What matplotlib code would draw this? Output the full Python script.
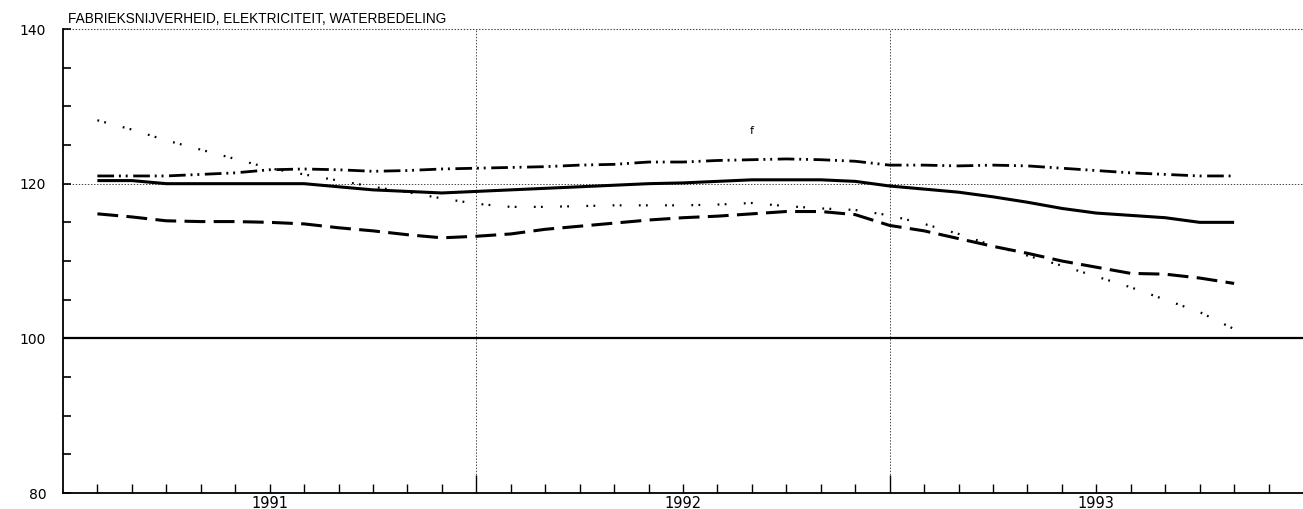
import numpy as np
import matplotlib
matplotlib.use('Agg')
import matplotlib.pyplot as plt
import matplotlib.transforms as mtransforms

plt.rcParams['lines.scale_dashes'] = False

title = 'FABRIEKSNIJVERHEID, ELEKTRICITEIT, WATERBEDELING'
years = ['1991', '1992', '1993']

# month index, 0 = start of jan 1991
months = np.arange(1, 35)

solid = [120.4, 120.4, 120.0, 120.0, 120.0, 120.0, 120.0, 119.6, 119.2, 119.0,
         118.8, 119.0, 119.2, 119.4, 119.6, 119.8, 120.0, 120.1, 120.3, 120.5,
         120.5, 120.5, 120.3, 119.7, 119.3, 118.9, 118.3, 117.6, 116.8, 116.2,
         115.9, 115.6, 115.0, 115.0]

dashdot = [121.0, 121.0, 121.0, 121.2, 121.4, 121.8, 121.9, 121.8, 121.6, 121.7,
           121.9, 122.0, 122.1, 122.2, 122.4, 122.5, 122.8, 122.8, 123.0, 123.1,
           123.2, 123.1, 122.9, 122.4, 122.4, 122.3, 122.4, 122.3, 122.0, 121.7,
           121.4, 121.2, 121.0, 121.0]

dashed = [116.1, 115.7, 115.2, 115.1, 115.1, 115.0, 114.8, 114.3, 113.9, 113.4,
          113.0, 113.2, 113.5, 114.1, 114.5, 114.9, 115.3, 115.6, 115.8, 116.1,
          116.4, 116.4, 116.0, 114.6, 113.9, 112.9, 111.9, 111.0, 110.0, 109.2,
          108.4, 108.3, 107.8, 107.1]

dotted = [128.2, 127.0, 125.6, 124.4, 123.2, 122.0, 121.2, 120.4, 119.6, 118.9,
          118.1, 117.4, 117.0, 117.0, 117.1, 117.2, 117.2, 117.2, 117.3, 117.5,
          117.1, 116.8, 116.6, 115.9, 114.8, 113.5, 112.0, 110.7, 109.4, 108.0,
          106.6, 105.0, 103.4, 101.2]

fig = plt.figure(figsize=(13.03, 5.09), dpi=100)
ax = fig.add_axes([0.0483, 0.0314, 0.9517, 0.9116])

# reference lines
ax.axhline(100, color='black', lw=1.6, zorder=2)
ax.axhline(120, color='#444444', lw=0.7, ls=(0, (1, 1.2)), zorder=1)
ax.axhline(140, color='#444444', lw=0.8, ls=(0, (1, 1.2)), zorder=1, clip_on=False)
for xb in [12, 24]:
    ax.axvline(xb, color='#444444', lw=0.7, ls=(0, (1, 1.2)), zorder=1)

# series
ax.plot(months, solid, color='black', lw=2.2, solid_capstyle='butt')
ax.plot(months, dashed, color='black', lw=2.2, dashes=[15, 6])
ax.plot(months, dashdot, color='black', lw=2.0, dashes=[12, 3.5, 1.4, 3.5, 1.4, 4])
ax.plot(months, dotted, color='black', lw=1.6, dashes=[1.3, 3.8, 1.3, 12.5])

ax.text(20, 126.8, 'f', fontsize=8, ha='center', va='center')

ax.set_xlim(0, 36)
ax.set_ylim(80, 140)

for s in ['top', 'right']:
    ax.spines[s].set_visible(False)
ax.spines['left'].set_linewidth(1.3)
ax.spines['bottom'].set_linewidth(1.3)

ax.set_yticks(np.arange(80, 141, 5))
ax.set_yticklabels([str(v) if v % 20 == 0 else '' for v in range(80, 141, 5)])
ax.tick_params(axis='y', direction='in', length=6, width=1.2, pad=12, labelsize=10)

ax.set_xticks([12, 24])
ax.set_xticks([m for m in range(1, 36) if m not in (12, 24)], minor=True)
ax.set_xticklabels([])
ax.tick_params(axis='x', which='major', direction='in', length=13, width=1.0)
ax.tick_params(axis='x', which='minor', direction='in', length=6.5, width=1.0)

trans = mtransforms.blended_transform_factory(ax.transData, ax.transAxes)
for i, y in enumerate(years):
    ax.text(6 + 12 * i, -0.006, y, transform=trans, ha='center', va='top',
            fontsize=10.5)

ax.text(0.004, 1.006, title, transform=ax.transAxes, ha='left', va='bottom',
        fontsize=9.8, family='Liberation Sans')

plt.savefig('out.png', dpi=100)
